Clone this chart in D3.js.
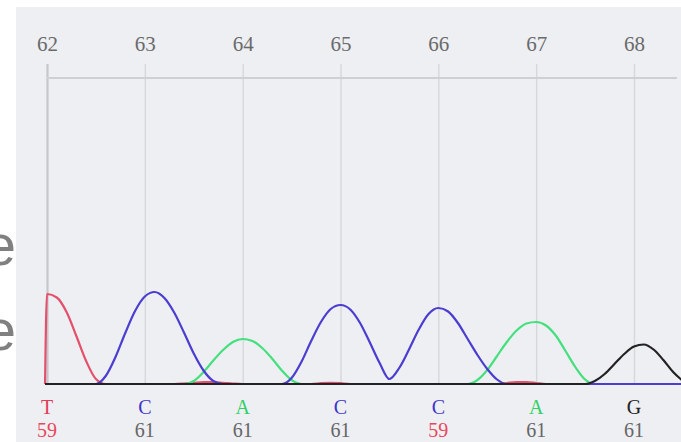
<!DOCTYPE html>
<html>
<head>
<meta charset="utf-8">
<script src="https://cdn.jsdelivr.net/npm/d3@7"></script>
<style>
  html, body { margin: 0; padding: 0; background: #ffffff; }
  svg { display: block; }
</style>
</head>
<body>
<svg id="chart" width="681" height="442"></svg>
<script>
// Base positions shown on the ruler and the called bases under the trace
const positions = [62, 63, 64, 65, 66, 67, 68];
const bases     = ["T", "C", "A", "C", "C", "A", "G"];
const qualities = [59, 61, 61, 61, 59, 61, 61];

// Sampling grid of the trace (base position units)
const samplePos = [61.98,
  62.0, 62.1, 62.2, 62.3, 62.4, 62.5, 62.6, 62.7, 62.8, 62.9,
  63.0, 63.1, 63.2, 63.3, 63.4, 63.5, 63.6, 63.7, 63.8, 63.9,
  64.0, 64.1, 64.2, 64.3, 64.4, 64.5, 64.6, 64.7, 64.8, 64.9,
  65.0, 65.1, 65.2, 65.3, 65.4, 65.5, 65.6, 65.7, 65.8, 65.9,
  66.0, 66.1, 66.2, 66.3, 66.4, 66.5, 66.6, 66.7, 66.8, 66.9,
  67.0, 67.1, 67.2, 67.3, 67.4, 67.5, 67.6, 67.7, 67.8, 67.9,
  68.0, 68.1, 68.2, 68.3, 68.4, 68.5];

// Fluorescence intensity per dye channel at each sample
const signalT = [0,
  900, 865, 720, 480, 230, 50, 0, 0, 0, 0,
  0, 0, 0, 0, 5, 12, 18, 18, 12, 5,
  0, 0, 0, 0, 0, 0, 0, 0, 8, 12,
  8, 0, 0, 0, 0, 0, 0, 0, 0, 0,
  0, 0, 0, 0, 0, 0, 0, 10, 18, 18,
  10, 0, 0, 0, 0, 0, 0, 0, 0, 0,
  0, 0, 0, 0, 0, 0];
const signalC = [0,
  0, 0, 0, 0, 0, 0, 80, 270, 510, 730,
  875, 920, 860, 715, 515, 305, 135, 30, 0, 0,
  0, 0, 0, 0, 0, 60, 220, 430, 620, 750,
  790, 745, 610, 415, 210, 50, 160, 345, 545, 700,
  760, 725, 610, 450, 290, 150, 45, 0, 0, 0,
  0, 0, 0, 0, 0, 0, 0, 0, 0, 0,
  0, 0, 0, 0, 0, 0];
const signalA = [0,
  0, 0, 0, 0, 0, 0, 0, 0, 0, 0,
  0, 0, 0, 0, 0, 30, 120, 235, 340, 420,
  450, 430, 360, 255, 135, 40, 0, 0, 0, 0,
  0, 0, 0, 0, 0, 0, 0, 0, 0, 0,
  0, 0, 0, 0, 40, 140, 280, 420, 535, 605,
  620, 585, 485, 330, 170, 45, 0, 0, 0, 0,
  0, 0, 0, 0, 0, 0];
const signalG = [0,
  0, 0, 0, 0, 0, 0, 0, 0, 0, 0,
  0, 0, 0, 0, 0, 0, 0, 0, 0, 0,
  0, 0, 0, 0, 0, 0, 0, 0, 0, 0,
  0, 0, 0, 0, 0, 0, 0, 0, 0, 0,
  0, 0, 0, 0, 0, 0, 0, 0, 0, 0,
  0, 0, 0, 0, 0, 0, 30, 100, 200, 300,
  375, 395, 345, 240, 120, 30];

// Drawing order: black last so the shared baseline reads dark
const channels = [
  { base: "T", values: signalT, color: "#e4506c" },
  { base: "A", values: signalA, color: "#44e07e" },
  { base: "C", values: signalC, color: "#4b3dd0" },
  { base: "G", values: signalG, color: "#222222" }
];
const baseColor = { T: "#e23c55", C: "#3f35c8", A: "#30d065", G: "#222222" };

const svg = d3.select("#chart");
const W = 681, H = 442;

// Panel background
svg.append("rect")
  .attr("x", 16).attr("y", 7)
  .attr("width", W - 16).attr("height", H - 7)
  .attr("fill", "#eeeff3");

// Partly visible caption letters along the left margin
svg.append("g")
  .attr("font-family", "'Liberation Sans', Arial, sans-serif")
  .attr("font-size", 57)
  .attr("fill", "#808080")
  .attr("text-anchor", "end")
  .selectAll("text")
  .data(["e", "e"])
  .join("text")
  .attr("x", 16)
  .attr("y", (d, i) => 265 + i * 85)
  .text(d => d);

const x = d3.scaleLinear().domain([62, 68]).range([47, 634]);
const baseY = 384, topY = 78;
const y = d3.scaleLinear().domain([0, 3060]).range([baseY, topY]);

// Vertical grid lines at each base position
const grid = svg.append("g")
  .attr("transform", `translate(0,${topY - 14})`)
  .call(d3.axisBottom(x).tickValues(positions).tickSize(baseY - topY + 14).tickFormat(""));
grid.select(".domain").remove();
grid.selectAll(".tick line")
  .attr("stroke", (d, i) => i === 0 ? "#c6c7cc" : "#d6d7db")
  .attr("stroke-width", (d, i) => i === 0 ? 2.2 : 1.4);

// Ruler line
svg.append("line")
  .attr("x1", x(62)).attr("x2", 677)
  .attr("y1", topY).attr("y2", topY)
  .attr("stroke", "#cfd0d4").attr("stroke-width", 2);

// Position labels
const ruler = svg.append("g")
  .attr("transform", `translate(0,${topY})`)
  .call(d3.axisTop(x).tickValues(positions).tickSize(0).tickPadding(27).tickFormat(d3.format("d")));
ruler.select(".domain").remove();
ruler.selectAll("text")
  .attr("font-family", "'Liberation Serif', 'Times New Roman', serif")
  .attr("font-size", 21)
  .attr("fill", "#6a6a6a");

// Dye traces
const line = d3.line()
  .x((d, i) => x(samplePos[i]))
  .y(d => y(d))
  .curve(d3.curveMonotoneX);

svg.append("g")
  .selectAll("path")
  .data(channels)
  .join("path")
  .attr("d", c => line(c.values))
  .attr("fill", "none")
  .attr("stroke", c => c.color)
  .attr("stroke-width", 2.2)
  .attr("stroke-linejoin", "round");

// Base calls and quality values
const calls = svg.append("g")
  .attr("font-family", "'Liberation Serif', 'Times New Roman', serif")
  .attr("text-anchor", "middle");

calls.selectAll("text.base")
  .data(positions)
  .join("text")
  .attr("class", "base")
  .attr("x", d => x(d))
  .attr("y", 414)
  .attr("font-size", 20)
  .attr("fill", (d, i) => baseColor[bases[i]])
  .text((d, i) => bases[i]);

calls.selectAll("text.qv")
  .data(positions)
  .join("text")
  .attr("class", "qv")
  .attr("x", d => x(d))
  .attr("y", 437)
  .attr("font-size", 20)
  .attr("fill", (d, i) => qualities[i] < 60 ? "#e8465a" : "#666666")
  .text((d, i) => qualities[i]);
</script>
</body>
</html>
